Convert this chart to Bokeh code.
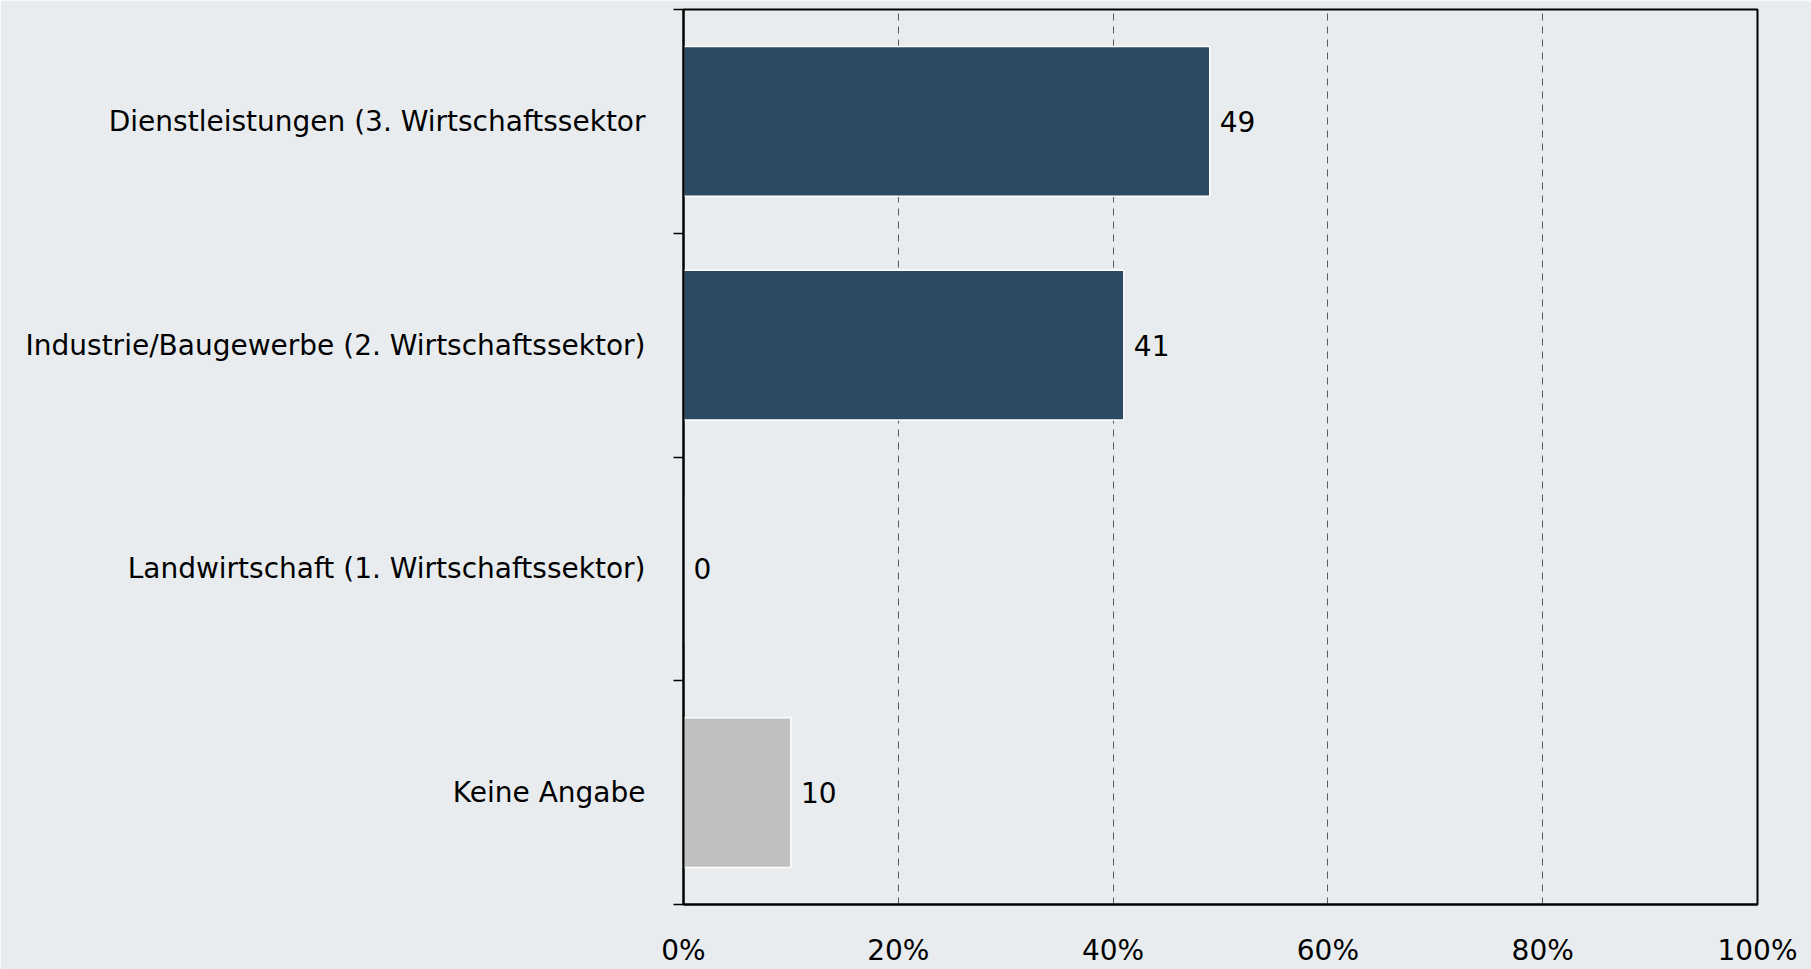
from bokeh.plotting import figure
from bokeh.models import Range1d, FixedTicker, ColumnDataSource, PrintfTickFormatter
from bokeh.core.properties import value
from bokeh.embed import file_html
from bokeh.resources import INLINE

# data (top to bottom)
categories = [
    "Dienstleistungen (3. Wirtschaftssektor",
    "Industrie/Baugewerbe (2. Wirtschaftssektor)",
    "Landwirtschaft (1. Wirtschaftssektor)",
    "Keine Angabe",
]
values = [49, 41, 0, 10]
colors = ["#2c4a63", "#2c4a63", "#2c4a63", "#c0c0c0"]
x_ticks = [0, 20, 40, 60, 80, 100]

BG = "#e9ecee"
FONT = "DejaVu Sans"

n = len(categories)
ypos = [n - i - 0.5 for i in range(n)]

src = ColumnDataSource(dict(
    y=ypos, v=values, c=colors, lab=[str(v) for v in values]
))

p = figure(
    width=1811, height=969,
    x_range=Range1d(0, 100), y_range=Range1d(0, n),
    output_backend="svg", toolbar_location=None,
    min_border_left=683, min_border_right=54,
    min_border_top=9, min_border_bottom=65,
)
p.background_fill_color = BG
p.border_fill_color = BG
p.outline_line_color = "black"
p.outline_line_width = 2

p.hbar(y="y", left=0, right="v", height=0.67, fill_color="c",
       line_color="white", line_width=1.5, source=src)

p.text(x="v", y="y", text="lab", x_offset=10, text_baseline="middle",
       text_align="left", text_font=value(FONT), text_font_size="28px",
       text_color="black", source=src)

# x axis
p.xaxis.ticker = FixedTicker(ticks=x_ticks)
p.xaxis.formatter = PrintfTickFormatter(format="%d%%")
p.xaxis.major_tick_line_color = None
p.xaxis.major_tick_out = 0
p.xaxis.major_tick_in = 0
p.xaxis.minor_tick_line_color = None
p.xaxis.axis_line_color = "black"
p.xaxis.axis_line_width = 2
p.xaxis.major_label_text_font = FONT
p.xaxis.major_label_text_font_size = "28px"
p.xaxis.major_label_text_color = "black"
p.xaxis.major_label_standoff = 29

# y axis: labels at centers, ticks at boundaries
p.yaxis.ticker = FixedTicker(ticks=ypos, minor_ticks=list(range(n + 1)))
p.yaxis.major_label_overrides = {y: c for y, c in zip(ypos, categories)}
p.yaxis.major_tick_line_color = None
p.yaxis.major_tick_out = 0
p.yaxis.major_tick_in = 0
p.yaxis.minor_tick_out = 10
p.yaxis.minor_tick_in = 0
p.yaxis.minor_tick_line_color = "black"
p.yaxis.minor_tick_line_width = 1.5
p.yaxis.axis_line_color = "black"
p.yaxis.axis_line_width = 2
p.yaxis.major_label_text_font = FONT
p.yaxis.major_label_text_font_size = "28px"
p.yaxis.major_label_text_color = "black"
p.yaxis.major_label_standoff = 28

# grid
p.xgrid.ticker = FixedTicker(ticks=x_ticks)
p.xgrid.grid_line_color = "#5a5a5a"
p.xgrid.grid_line_dash = "7 6"
p.xgrid.grid_line_width = 1
p.ygrid.grid_line_color = None

open("out.html", "w").write(file_html(p, INLINE))
